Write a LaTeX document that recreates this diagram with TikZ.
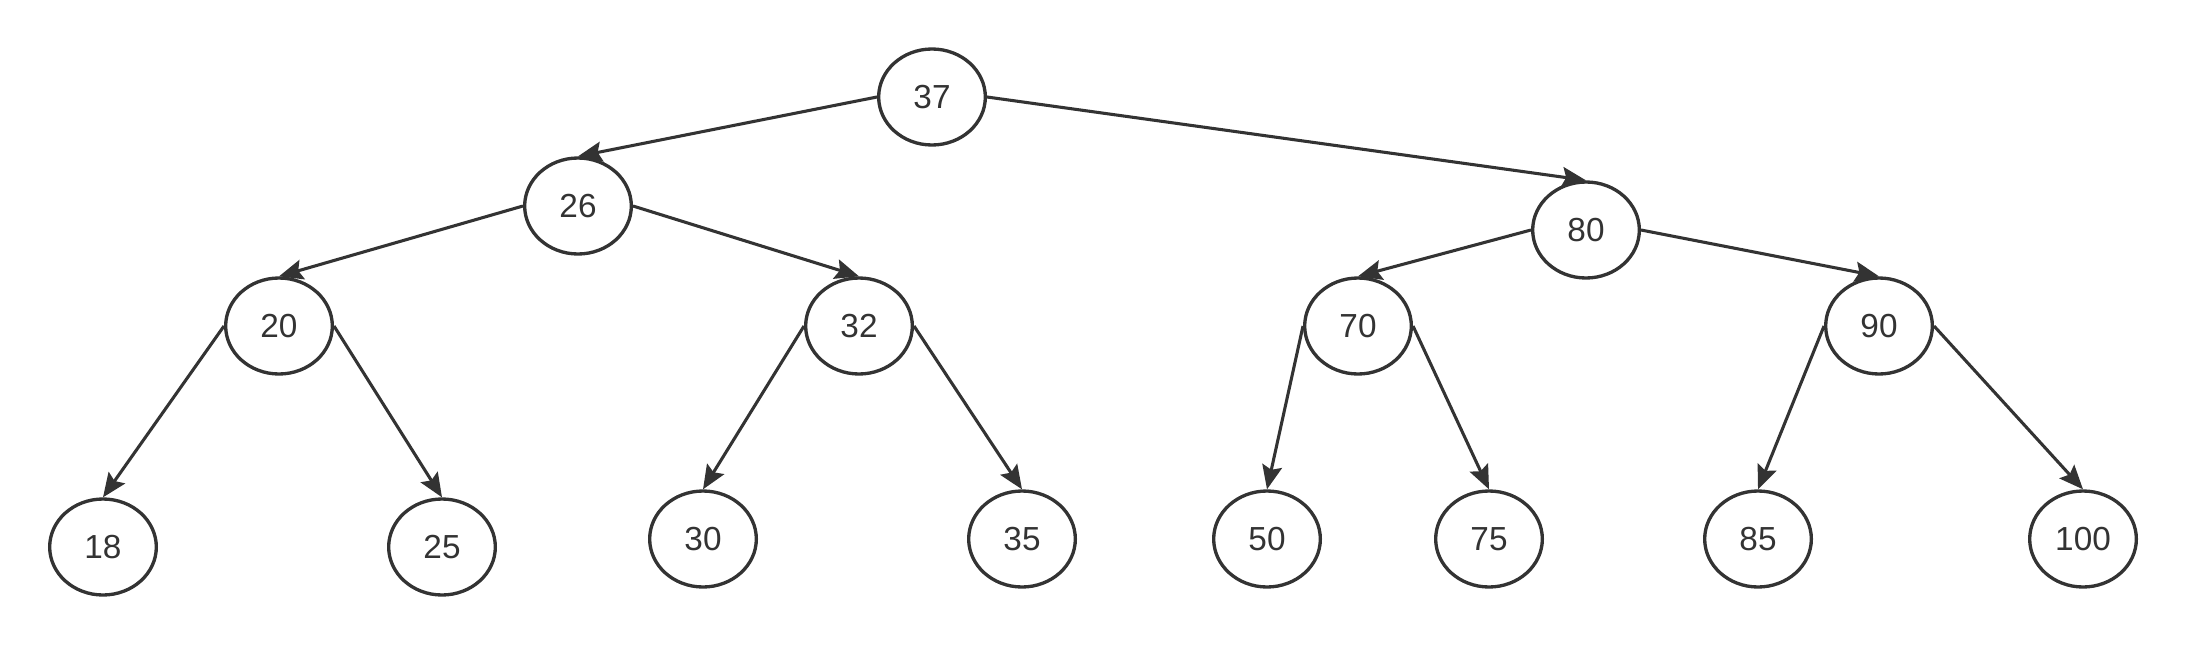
\documentclass[tikz,border=0pt]{standalone}
\usepackage{fontspec}
\setmainfont{Liberation Sans}
\usetikzlibrary{shapes.geometric,arrows.meta}
\definecolor{ink}{HTML}{333333}
\begin{document}
\begin{tikzpicture}[x=0.75pt,y=-0.75pt,
  tnode/.style={ellipse,draw=ink,line width=2.5pt,minimum width=80pt,minimum height=72pt,inner sep=0pt,font=\fontsize{25}{30}\selectfont,text=ink},
  edge/.style={draw=ink,line width=2.3pt,-{Stealth[length=18pt,width=15pt,inset=3pt]}}]
\useasboundingbox (0,0) rectangle (2186,646);
\node[tnode] (n37) at (932,97) {37};
\node[tnode] (n26) at (578,206) {26};
\node[tnode] (n80) at (1586,230) {80};
\node[tnode] (n20) at (279,326) {20};
\node[tnode] (n32) at (859,326) {32};
\node[tnode] (n70) at (1358,326) {70};
\node[tnode] (n90) at (1879,326) {90};
\node[tnode] (n18) at (103,547) {18};
\node[tnode] (n25) at (442,547) {25};
\node[tnode] (n30) at (703,539) {30};
\node[tnode] (n35) at (1022,539) {35};
\node[tnode] (n50) at (1267,539) {50};
\node[tnode] (n75) at (1489,539) {75};
\node[tnode] (n85) at (1758,539) {85};
\node[tnode] (n100) at (2083,539) {100};
\draw[edge] (n37.west) -- (n26.north);
\draw[edge] (n37.east) -- (n80.north);
\draw[edge] (n26.west) -- (n20.north);
\draw[edge] (n26.east) -- (n32.north);
\draw[edge] (n80.west) -- (n70.north);
\draw[edge] (n80.east) -- (n90.north);
\draw[edge] (n20.west) -- (n18.north);
\draw[edge] (n20.east) -- (n25.north);
\draw[edge] (n32.west) -- (n30.north);
\draw[edge] (n32.east) -- (n35.north);
\draw[edge] (n70.west) -- (n50.north);
\draw[edge] (n70.east) -- (n75.north);
\draw[edge] (n90.west) -- (n85.north);
\draw[edge] (n90.east) -- (n100.north);
\end{tikzpicture}
\end{document}
